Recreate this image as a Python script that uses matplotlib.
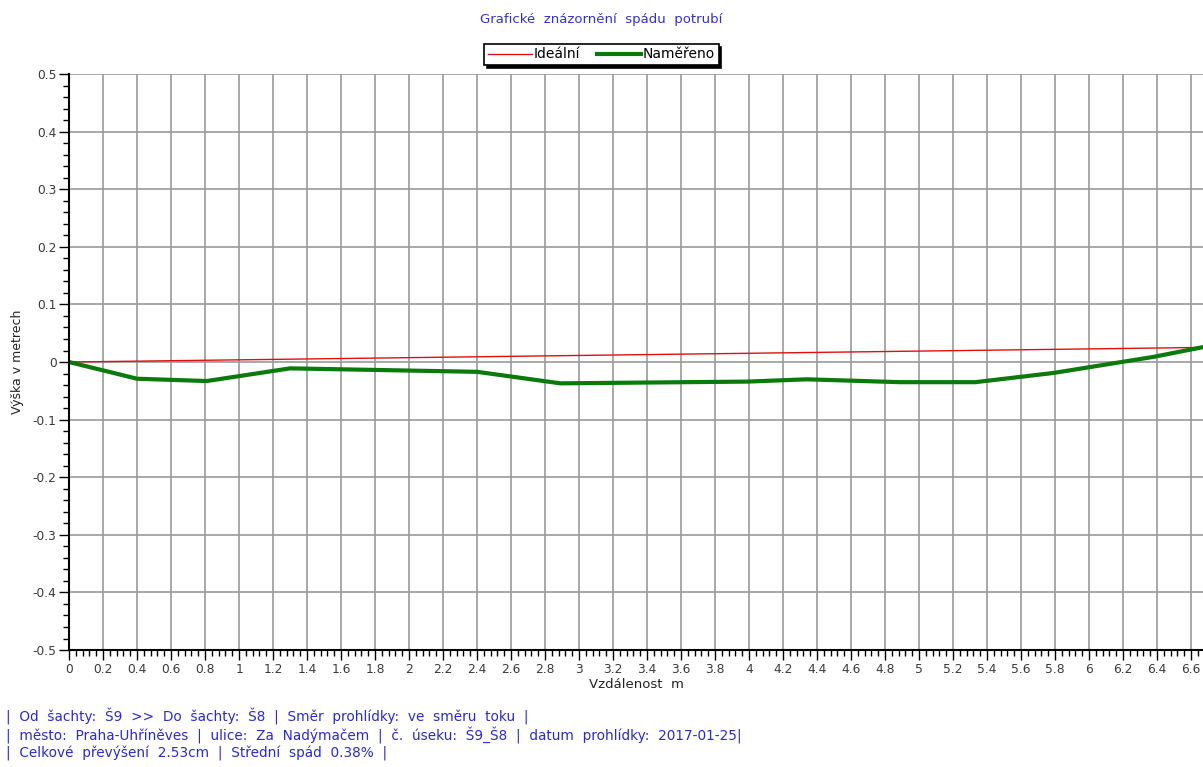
import matplotlib.pyplot as plt
import numpy as np
from matplotlib.ticker import MultipleLocator

# data
delka = 6.66
ideal_x = [0, delka]
ideal_y = [0, 0.0253]
namereno_x = [0, 0.40, 0.81, 1.30, 1.85, 2.40, 2.89, 3.99, 4.34, 4.89, 5.33, 5.79, 6.38, delka]
namereno_y = [0, -0.029, -0.033, -0.011, -0.014, -0.017, -0.037, -0.034, -0.030, -0.035, -0.035, -0.019, 0.009, 0.0253]

info = ["|  Od  šachty:  Š9  >>  Do  šachty:  Š8  |  Směr  prohlídky:  ve  směru  toku  |",
        "|  město:  Praha-Uhříněves  |  ulice:  Za  Nadýmačem  |  č.  úseku:  Š9_Š8  |  datum  prohlídky:  2017-01-25|",
        "|  Celkové  převýšení  2.53cm  |  Střední  spád  0.38%  |"]

plt.rcParams['font.family'] = ['DejaVu Sans']
fig = plt.figure(figsize=(12.03, 7.67), dpi=100)
ax = fig.add_axes([0.0574, 0.1525, 0.9426, 0.751])

ax.plot(ideal_x, ideal_y, color='#e01010', linewidth=1, label='Ideální')
ax.plot(namereno_x, namereno_y, color='#0a7a0a', linewidth=3, label='Naměřeno')

ax.set_xlim(0, 6.67)
ax.set_ylim(-0.5, 0.5)
ax.xaxis.set_minor_locator(MultipleLocator(0.04))
ax.yaxis.set_minor_locator(MultipleLocator(0.02))
xt = np.arange(0, 6.61, 0.2)
ax.set_xticks(xt)
ax.set_xticklabels([f"{v:.1f}".rstrip('0').rstrip('.') for v in xt])
yt = np.arange(-0.5, 0.51, 0.1)
ax.set_yticks(yt)
ax.set_yticklabels([f"{v:.1f}" if abs(v) > 1e-9 else '0' for v in yt])
ax.grid(True, which='major', color='#999999', linewidth=1.2)
ax.tick_params(axis='both', which='major', labelsize=8.8, labelcolor='#3a3a3a', length=7, width=1,
               direction='out', pad=2)
ax.tick_params(axis='both', which='minor', length=4, width=1, direction='out')
for s in ['top', 'right']:
    ax.spines[s].set_visible(False)
ax.spines['left'].set_linewidth(1.5)
ax.spines['bottom'].set_linewidth(1.5)

ax.set_xlabel('Vzdálenost  m', fontsize=9.5, color='#222222', labelpad=2)
ax.set_ylabel('Výška v metrech', fontsize=9, color='#222222', labelpad=6)

fig.text(0.5, 0.974, 'Grafické  znázornění  spádu  potrubí', ha='center', va='center',
         fontsize=9.5, color='#3030d0')
leg = fig.legend(loc='center', bbox_to_anchor=(0.5, 0.929), ncol=2, fontsize=10,
                 frameon=True, fancybox=False, shadow={'color': 'black', 'alpha': 1},
                 edgecolor='black', borderpad=0.25, handlelength=3.2, handletextpad=0.1,
                 columnspacing=1.2)
leg.get_frame().set_linewidth(1.2)

for i, t in enumerate(info):
    fig.text(0.005, 0.066 - i * 0.0245, t, ha='left', va='center', fontsize=9.8, color='#2a2ad0')

plt.savefig('out.png')
